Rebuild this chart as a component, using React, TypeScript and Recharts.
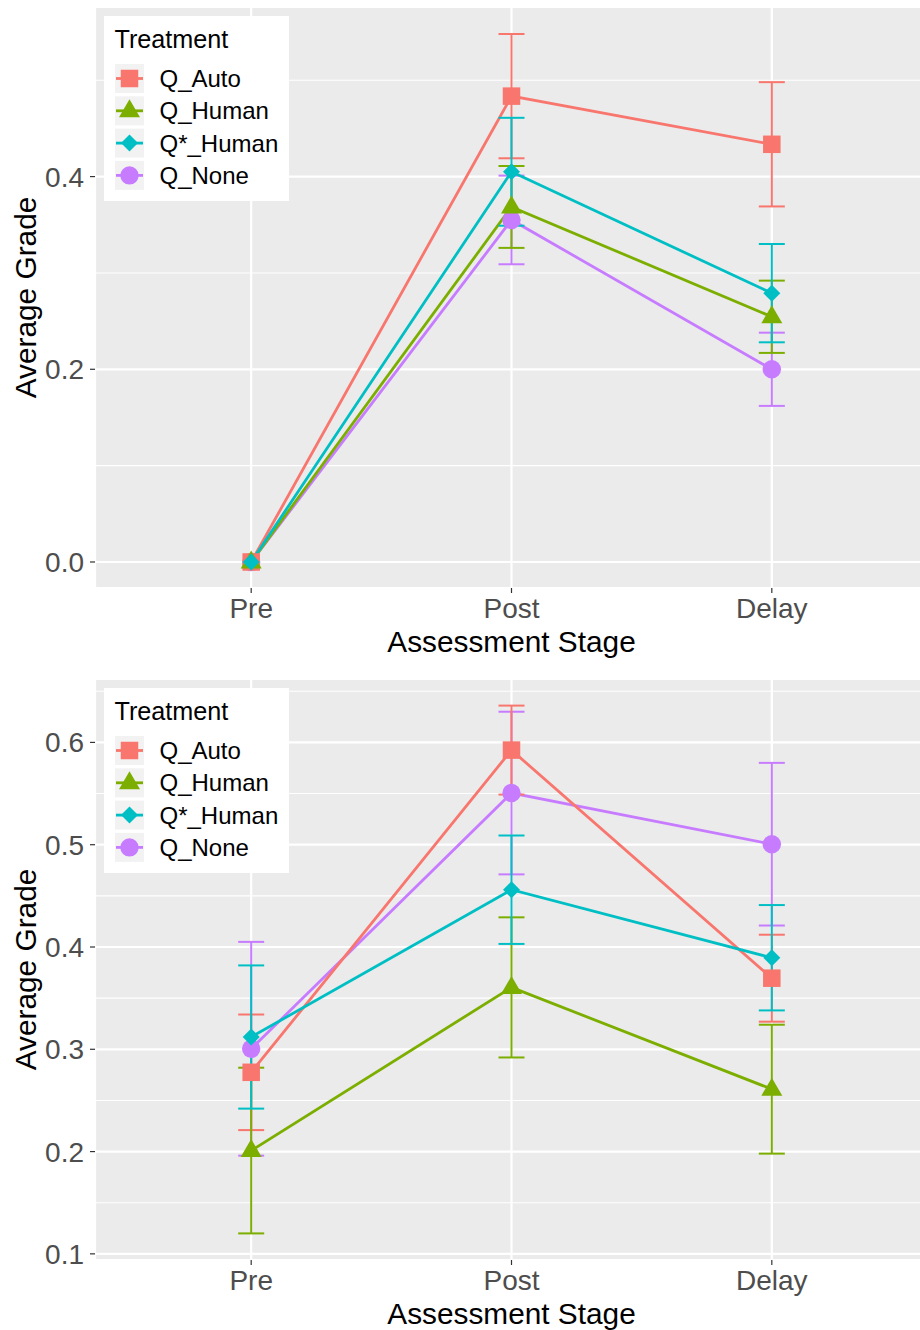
import React from 'react';
import { LineChart, Line, XAxis, YAxis, CartesianGrid, ErrorBar, Legend } from 'recharts';

const stages = ['Pre', 'Post', 'Delay'];
const treatments = ['Q_Auto', 'Q_Human', 'Q*_Human', 'Q_None'];
const seriesKeys = ['auto', 'human', 'qstar', 'none'];
const colors = ['#F8766D', '#7CAE00', '#00BFC4', '#C77CFF'];
const shapes = ['square', 'triangle', 'diamond', 'circle'];
const drawOrder = [3, 0, 1, 2];

// Panel 1 (top)
const p1Auto = [0, 0.4835, 0.4335];
const p1AutoErr = [0, 0.0645, 0.0645];
const p1Human = [0, 0.3685, 0.2545];
const p1HumanErr = [0, 0.0425, 0.0375];
const p1QStar = [0, 0.405, 0.279];
const p1QStarErr = [0, 0.056, 0.051];
const p1None = [0, 0.355, 0.2];
const p1NoneErr = [0, 0.046, 0.038];
const p1Ticks = [0, 0.2, 0.4];
const p1Minor = [0.1, 0.3, 0.5];
const p1Domain = [-0.027, 0.576];

// Panel 2 (bottom)
const p2Auto = [0.2775, 0.5925, 0.3695];
const p2AutoErr = [0.0565, 0.0435, 0.0425];
const p2Human = [0.201, 0.3605, 0.261];
const p2HumanErr = [0.081, 0.0685, 0.063];
const p2QStar = [0.312, 0.456, 0.3895];
const p2QStarErr = [0.07, 0.053, 0.0515];
const p2None = [0.3005, 0.5505, 0.5005];
const p2NoneErr = [0.1045, 0.0795, 0.0795];
const p2Ticks = [0.1, 0.2, 0.3, 0.4, 0.5, 0.6];
const p2Minor = [0.15, 0.25, 0.35, 0.45, 0.55, 0.65];
const p2Domain = [0.094, 0.662];

const buildData = (vals: number[][], errs: number[][]) =>
  stages.map((s, i) => {
    const row: any = { x: i + 1, stage: s };
    seriesKeys.forEach((k, j) => {
      row[k] = vals[j][i];
      row[k + 'Err'] = errs[j][i];
    });
    return row;
  });

const data1 = buildData([p1Auto, p1Human, p1QStar, p1None], [p1AutoErr, p1HumanErr, p1QStarErr, p1NoneErr]);
const data2 = buildData([p2Auto, p2Human, p2QStar, p2None], [p2AutoErr, p2HumanErr, p2QStarErr, p2NoneErr]);

const FONT = '"Liberation Sans", Arial, Helvetica, sans-serif';

function Marker({ shape, color, cx, cy }: { shape: string; color: string; cx: number; cy: number }) {
  if (shape === 'square') {
    return <rect x={cx - 8.75} y={cy - 8.75} width={17.5} height={17.5} fill={color} />;
  }
  if (shape === 'triangle') {
    return (
      <polygon
        points={`${cx},${cy - 11.5} ${cx - 10.5},${cy + 6.5} ${cx + 10.5},${cy + 6.5}`}
        fill={color}
      />
    );
  }
  if (shape === 'diamond') {
    return (
      <polygon
        points={`${cx},${cy - 8.5} ${cx + 8.5},${cy} ${cx},${cy + 8.5} ${cx - 8.5},${cy}`}
        fill={color}
      />
    );
  }
  return <circle cx={cx} cy={cy} r={9.2} fill={color} />;
}

const makeDot = (shape: string, color: string) => (p: any) => {
  const { cx, cy, index } = p;
  if (cx == null || cy == null) return <g key={`d-${shape}-${index}`} />;
  return (
    <g key={`d-${shape}-${index}`}>
      <Marker shape={shape} color={color} cx={cx} cy={cy} />
    </g>
  );
};

function LegendBox() {
  return (
    <svg width={185} height={185} style={{ display: 'block' }}>
      <rect x={0} y={0} width={185} height={185} fill="#FFFFFF" />
      <text x={10.5} y={31.5} fontSize={25.2} fill="#000" fontFamily={FONT}>
        Treatment
      </text>
      {treatments.map((t, i) => {
        const top = 48 + i * 32.3;
        const cy = top + 14.5;
        return (
          <g key={t}>
            <rect x={11} y={top} width={29} height={29} fill="#F2F2F2" />
            <line x1={12} x2={39} y1={cy} y2={cy} stroke={colors[i]} strokeWidth={2.8} />
            <Marker shape={shapes[i]} color={colors[i]} cx={25.5} cy={cy} />
            <text x={55.5} y={cy + 8.5} fontSize={24} fill="#000" fontFamily={FONT}>
              {t}
            </text>
          </g>
        );
      })}
    </svg>
  );
}

const XTitle = (props: any) => {
  const { viewBox } = props;
  const cx = viewBox.x + viewBox.width / 2;
  return (
    <text x={cx} y={viewBox.y + 63.5} textAnchor="middle" fontSize={29.8} fill="#000" fontFamily={FONT}>
      Assessment Stage
    </text>
  );
};

const YTitle = (props: any) => {
  const { viewBox } = props;
  const cy = viewBox.y + viewBox.height / 2;
  const x = 36;
  return (
    <text
      x={x}
      y={cy}
      transform={`rotate(-90, ${x}, ${cy})`}
      textAnchor="middle"
      fontSize={29.8}
      fill="#000"
      fontFamily={FONT}
    >
      Average Grade
    </text>
  );
};

function Panel({
  data,
  domain,
  ticks,
  minor,
  marginTop,
  height,
}: {
  data: any[];
  domain: number[];
  ticks: number[];
  minor: number[];
  marginTop: number;
  height: number;
}) {
  return (
    <LineChart width={930} height={height} data={data} margin={{ top: marginTop, right: 2, bottom: 0, left: 0 }}>
      <CartesianGrid fill="#EBEBEB" stroke="#FFFFFF" strokeWidth={2.2} />
      <CartesianGrid
        stroke="#FFFFFF"
        strokeWidth={1.1}
        vertical={false}
        horizontalValues={minor}
        fill="none"
      />
      <XAxis
        type="number"
        dataKey="x"
        domain={[0.4, 3.6]}
        ticks={[1, 2, 3]}
        interval={0}
        allowDataOverflow
        tickFormatter={(v: number) => stages[Math.round(v) - 1]}
        axisLine={false}
        tickLine={{ stroke: '#333333', strokeWidth: 1.2 }}
        tickSize={5}
        tickMargin={5}
        tick={{ fill: '#4D4D4D', fontSize: 28, fontFamily: FONT }}
        height={70}
        label={<XTitle />}
      />
      <YAxis
        type="number"
        domain={domain}
        ticks={ticks}
        interval={0}
        allowDataOverflow
        tickFormatter={(v: number) => v.toFixed(1)}
        axisLine={false}
        tickLine={{ stroke: '#333333', strokeWidth: 1.2 }}
        tickSize={5}
        tickMargin={6}
        tick={{ fill: '#4D4D4D', fontSize: 28, fontFamily: FONT }}
        width={95}
        label={<YTitle />}
      />
      {drawOrder.map((j) => (
        <Line
          key={seriesKeys[j]}
          type="linear"
          dataKey={seriesKeys[j]}
          stroke={colors[j]}
          strokeWidth={2.8}
          dot={makeDot(shapes[j], colors[j])}
          activeDot={false}
          isAnimationActive={false}
        >
          <ErrorBar
            dataKey={seriesKeys[j] + 'Err'}
            direction="y"
            width={13}
            stroke={colors[j]}
            strokeWidth={2}
            isAnimationActive={false}
          />
        </Line>
      ))}
      <Legend
        layout="horizontal"
        verticalAlign="middle"
        align="center"
        wrapperStyle={{ left: 104, top: marginTop + 9, width: 185, height: 185 }}
        content={() => <LegendBox />}
      />
    </LineChart>
  );
}

export default function App() {
  return (
    <div
      style={{
        position: 'absolute',
        left: 0,
        top: 0,
        width: 920,
        height: 1330,
        overflow: 'hidden',
        background: '#FFFFFF',
        fontFamily: FONT,
      }}
    >
      <div style={{ position: 'absolute', left: 0, top: 0 }}>
        <Panel data={data1} domain={p1Domain} ticks={p1Ticks} minor={p1Minor} marginTop={7} height={658} />
      </div>
      <div style={{ position: 'absolute', left: 0, top: 671 }}>
        <Panel data={data2} domain={p2Domain} ticks={p2Ticks} minor={p2Minor} marginTop={8} height={659} />
      </div>
    </div>
  );
}
